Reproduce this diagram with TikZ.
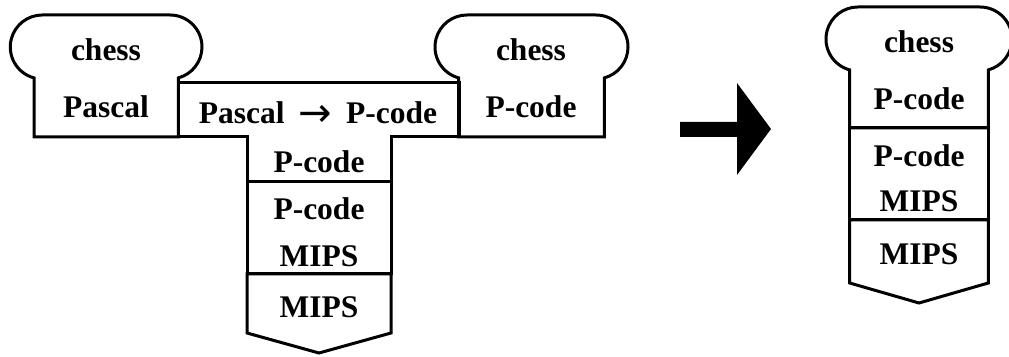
\documentclass[tikz,border=0pt]{standalone}
\usepackage{fontspec}
\setmainfont{Liberation Serif}
\newfontfamily\arrowfont{DejaVu Sans}
\begin{document}
\begin{tikzpicture}[x=1pt,y=1pt, line width=3pt, line join=miter,
  lbl/.style={font=\fontsize{31.5}{31.5}\selectfont\bfseries, anchor=base, inner sep=0pt},
  shapeline/.style={draw=black, line width=3pt}]
\useasboundingbox (0,0) rectangle (1009,356);
\clip (0,0) rectangle (1009,356);

% left program: chess in Pascal
\draw[shapeline] (34,219) -- (34,278.1) arc[start angle=255,end angle=90,radius=32pt]
  -- (170,341) arc[start angle=90,end angle=-75,radius=32pt] -- (178.3,219) -- cycle;
% compiler Pascal -> P-code
\draw[shapeline] (178.3,273) -- (459,273) -- (459,219) -- (391,219) -- (391,174)
  -- (247,174) -- (247,219) -- (178.3,219) -- cycle;
% interpreter
\draw[shapeline] (247,174) rectangle (391,82);
% machine
\draw[shapeline] (247,82) -- (391,82) -- (391,23) -- (319,3) -- (247,23) -- cycle;
% right program: chess in P-code
\draw[shapeline] (458.7,219) -- (458.7,278.1) arc[start angle=255,end angle=90,radius=32pt]
  -- (596,341) arc[start angle=90,end angle=-75,radius=32pt] -- (604.3,219) -- cycle;

% big arrow
\fill (680,219) -- (737,219) -- (737,181) -- (771,227) -- (737,273) -- (737,234) -- (680,234) -- cycle;

% result stack
\draw[shapeline] (849.7,228) -- (849.7,286.1) arc[start angle=255,end angle=90,radius=32pt]
  -- (980,349) arc[start angle=90,end angle=-75,radius=32pt] -- (988.3,228) -- cycle;
\draw[shapeline] (849.7,228) rectangle (988.3,136);
\draw[shapeline] (849.7,136) -- (988.3,136) -- (988.3,73) -- (919,53) -- (849.7,73) -- cycle;

% labels
\node[lbl] (chessA) at (106,295) {chess};
\node[lbl] (pascalA) at (106,238) {Pascal};
\node[lbl] (compT) at (318,232) {Pascal\hspace{14pt}\raisebox{-3pt}{\arrowfont\mdseries\fontsize{40}{40}\selectfont →}\hspace{14pt}P-code};
\node[lbl] (chessB) at (531,295) {chess};
\node[lbl] (pcodeB) at (531,238) {P-code};
\node[lbl] (stemP) at (319,183) {P-code};
\node[lbl] (intP) at (319,136) {P-code};
\node[lbl] (intM) at (319,89) {MIPS};
\node[lbl] (machM) at (319,38) {MIPS};
\node[lbl] (chessC) at (919,303) {chess};
\node[lbl] (pcodeC) at (919,246) {P-code};
\node[lbl] (intPC) at (919,189) {P-code};
\node[lbl] (intMC) at (919,144) {MIPS};
\node[lbl] (machMC) at (919,91) {MIPS};
\end{tikzpicture}
\end{document}
